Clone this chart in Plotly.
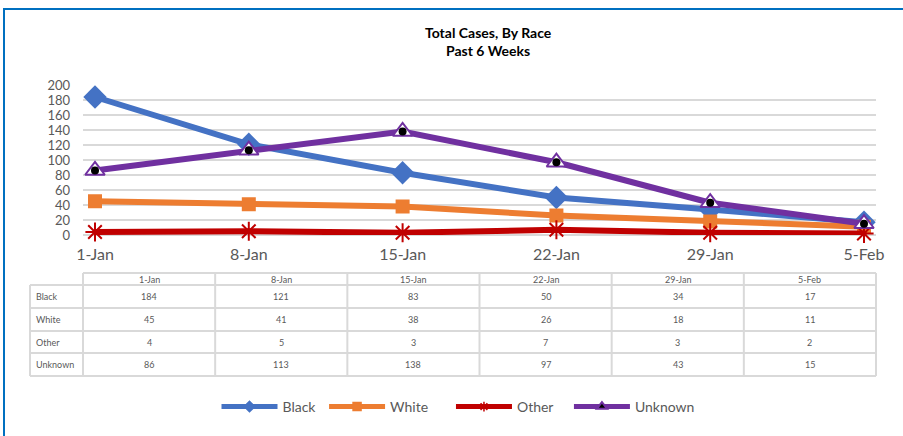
import plotly.graph_objects as go

weeks = ["1-Jan", "8-Jan", "15-Jan", "22-Jan", "29-Jan", "5-Feb"]
black = [184, 121, 83, 50, 34, 17]
white = [45, 41, 38, 26, 18, 11]
other = [4, 5, 3, 7, 3, 2]
unknown = [86, 113, 138, 97, 43, 15]
series_names = ["Black", "White", "Other", "Unknown"]
series_values = [black, white, other, unknown]
colors = ["#4472C4", "#ED7D31", "#C00000", "#7030A0"]

W, H = 903, 436
L, R, T, B = 83, 876, 85, 235  # plot area px
PW, PH = R - L, B - T

def px(x):
    return (x - L) / PW

def py(y):
    return (B - y) / PH

fig = go.Figure()

fig.add_trace(go.Scatter(x=weeks, y=black, name="Black", mode="lines+markers",
                         line=dict(color=colors[0], width=6), showlegend=False,
                         marker=dict(symbol="diamond", size=18, color=colors[0]),
                         cliponaxis=False))
fig.add_trace(go.Scatter(x=weeks, y=white, name="White", mode="lines+markers",
                         line=dict(color=colors[1], width=6), showlegend=False,
                         marker=dict(symbol="square", size=14, color=colors[1]),
                         cliponaxis=False))
fig.add_trace(go.Scatter(x=weeks, y=other, name="Other", mode="lines+markers",
                         line=dict(color=colors[2], width=6), showlegend=False,
                         marker=dict(symbol="asterisk-open", size=16,
                                     line=dict(color=colors[2], width=2)),
                         cliponaxis=False))
fig.add_trace(go.Scatter(x=weeks, y=unknown, name="Unknown", mode="lines+markers",
                         line=dict(color=colors[3], width=6), showlegend=False,
                         marker=dict(symbol="triangle-up", size=17, color="white",
                                     line=dict(color=colors[3], width=2)),
                         cliponaxis=False))
fig.add_trace(go.Scatter(x=weeks, y=unknown, mode="markers", showlegend=False,
                         hoverinfo="skip",
                         marker=dict(symbol="circle", size=8, color="black"),
                         cliponaxis=False))

# legend entries (small markers, as in the reference)
leg_symbols = ["diamond", "square", "asterisk-open", "triangle-up"]
leg_pad = [1, 5, 3, 0]
for nm, c, s, p in zip(series_names, colors, leg_symbols, leg_pad):
    mk = dict(symbol=s, size=8, color=c, line=dict(color=c, width=1.5))
    if nm == "Unknown":
        mk = dict(symbol="triangle-up", size=9, color="black", line=dict(color=c, width=2))
    fig.add_trace(go.Scatter(x=[None], y=[None], name=nm + "\u00a0" * p, mode="lines+markers",
                             line=dict(color=c, width=5), marker=mk))

shapes = []
annotations = []

# outer frame (blue), extends beyond right/bottom edge
shapes.append(dict(type="rect", xref="paper", yref="paper",
                   x0=px(4), x1=px(960), y0=py(9), y1=py(520),
                   line=dict(color="#0070C0", width=2), layer="below"))

# data table
grid = "#d9d9d9"
tbl_left, tbl_top, hdr_bot = 30, 273, 285
row_bounds = [285, 308, 331, 353, 376]
colw = PW / len(weeks)
shapes.append(dict(type="line", xref="paper", yref="paper", x0=px(L), x1=px(R),
                   y0=py(tbl_top), y1=py(tbl_top), line=dict(color=grid, width=2)))
for yb in row_bounds:
    shapes.append(dict(type="line", xref="paper", yref="paper", x0=px(tbl_left), x1=px(R),
                       y0=py(yb), y1=py(yb), line=dict(color=grid, width=2)))
shapes.append(dict(type="line", xref="paper", yref="paper", x0=px(tbl_left), x1=px(tbl_left),
                   y0=py(hdr_bot), y1=py(row_bounds[-1]), line=dict(color=grid, width=2)))
for i in range(len(weeks) + 1):
    xc = L + i * colw
    shapes.append(dict(type="line", xref="paper", yref="paper", x0=px(xc), x1=px(xc),
                       y0=py(tbl_top), y1=py(row_bounds[-1]), line=dict(color=grid, width=2)))

tfont = dict(family="Lato", size=9, color="#595959")
for i, wk in enumerate(weeks):
    annotations.append(dict(x=px(L + (i + 0.5) * colw), y=py((tbl_top + hdr_bot) / 2),
                            xref="paper", yref="paper", text=wk, showarrow=False,
                            font=tfont, xanchor="center", yanchor="middle"))
for r, (nm, vals) in enumerate(zip(series_names, series_values)):
    yc = (row_bounds[r] + row_bounds[r + 1]) / 2
    annotations.append(dict(x=px(34), y=py(yc), xref="paper", yref="paper", text=nm,
                            showarrow=False, font=tfont, xanchor="left", yanchor="middle"))
    for i, v in enumerate(vals):
        annotations.append(dict(x=px(L + (i + 0.5) * colw), y=py(yc), xref="paper", yref="paper",
                                text=str(v), showarrow=False, font=tfont,
                                xanchor="center", yanchor="middle"))

# title
annotations.append(dict(x=px(488), y=py(41), xref="paper", yref="paper",
                        text="<b>Total Cases, By Race</b><br><b>Past 6 Weeks</b>",
                        showarrow=False, xanchor="center", yanchor="middle",
                        font=dict(family="Lato", size=14, color="black")))

fig.update_layout(
    width=W, height=H,
    margin=dict(l=L, r=W - R, t=T, b=H - B),
    paper_bgcolor="white", plot_bgcolor="white",
    shapes=shapes, annotations=annotations,
    showlegend=True,
    legend=dict(orientation="h", x=px(458), y=py(407), xanchor="center", yanchor="middle",
                font=dict(family="Lato", size=14, color="#595959"), itemwidth=56,
                bgcolor="rgba(0,0,0,0)"),
    xaxis=dict(type="category", range=[-0.078, len(weeks) - 1 + 0.078], showgrid=False,
               showline=False, zeroline=False, ticks="", ticklabelstandoff=8,
               tickfont=dict(family="Lato", size=16, color="#595959")),
    yaxis=dict(range=[0, 200], dtick=20, showgrid=True, gridcolor=grid, gridwidth=2,
               zeroline=True, zerolinecolor=grid, zerolinewidth=2, showline=False,
               ticks="", ticklabelstandoff=12,
               tickfont=dict(family="Lato", size=13, color="#595959")),
)

fig.write_html("out.html", config={"displayModeBar": False},
               post_script="document.body.style.margin='0';")
